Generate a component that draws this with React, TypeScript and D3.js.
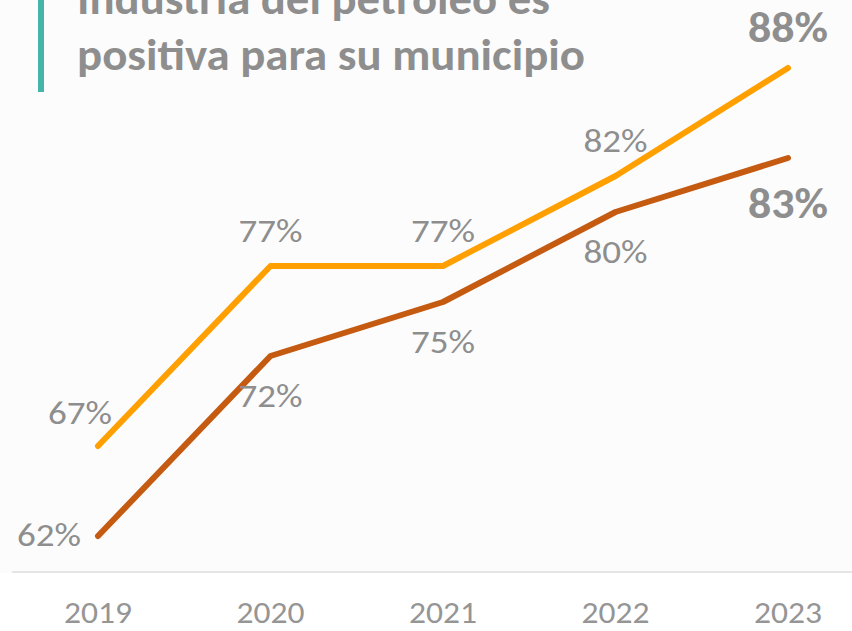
import React from "react";
import * as d3 from "d3";

const years = ["2019", "2020", "2021", "2022", "2023"];
const seriesOrange = [67, 77, 77, 82, 88];
const seriesBrown = [62, 72, 75, 80, 83];
const titleLines = ["Industria del petróleo es", "positiva para su municipio"];

const W = 852;
const H = 631;
const FONT = "Carlito, Calibri, Lato, 'Open Sans', sans-serif";
const GREY = "#8e8e8e";

export default function App() {
  const x = d3.scalePoint<string>().domain(years).range([98, 788]);
  const y = d3.scaleLinear().domain([60, 90]).range([572, 32]);
  const line = d3
    .line<number>()
    .x((_, i) => x(years[i]) as number)
    .y((d) => y(d));

  const fmt = (v: number) => `${v}%`;
  const last = years.length - 1;

  const label = (key: string, v: number, px: number, py: number, anchor: string, bold: boolean) => (
    <text
      key={key}
      x={px}
      y={py}
      textAnchor={anchor}
      fontSize={bold ? 42 : 33}
      fontWeight={bold ? 700 : 400}
      fill={GREY}
      textLength={bold ? 80 : 64}
      lengthAdjust="spacingAndGlyphs"
    >
      {fmt(v)}
    </text>
  );

  return (
    <div style={{ position: "fixed", left: 0, top: 0, width: W, height: H, background: "#fff" }}>
      <svg width={W} height={H} style={{ display: "block" }} fontFamily={FONT}>
        <rect x={0} y={0} width={W} height={573} fill="#fcfcfc" />
        {/* accent bar */}
        <rect x={38} y={0} width={6} height={92} fill="#45b5aa" />
        {/* title */}
        {titleLines.map((t, i) => (
          <text
            key={t}
            x={77}
            y={14 + i * 56}
            fontSize={45}
            fontWeight={700}
            fill={GREY}
            textLength={i === 0 ? 473 : 508}
            lengthAdjust="spacingAndGlyphs"
          >
            {t}
          </text>
        ))}
        {/* axis line */}
        <line x1={12} x2={W} y1={572} y2={572} stroke="#dedede" strokeWidth={1.5} />
        {years.map((yr) => (
          <text
            key={yr}
            x={x(yr)}
            y={623}
            textAnchor="middle"
            fontSize={31}
            fill="#959595"
            textLength={68}
            lengthAdjust="spacingAndGlyphs"
          >
            {yr}
          </text>
        ))}
        {/* lines */}
        <path
          d={line(seriesBrown) || ""}
          fill="none"
          stroke="#c55a11"
          strokeWidth={6}
          strokeLinecap="round"
          strokeLinejoin="round"
        />
        <path
          d={line(seriesOrange) || ""}
          fill="none"
          stroke="#ffa000"
          strokeWidth={6}
          strokeLinecap="round"
          strokeLinejoin="round"
        />
        {/* orange labels */}
        {seriesOrange.map((v, i) => {
          const px = x(years[i]) as number;
          const py = y(v);
          if (i === 0) return label("o" + i, v, px + 14, py - 22, "end", false);
          if (i === last) return label("o" + i, v, px, py - 26, "middle", true);
          return label("o" + i, v, px, py - 24, "middle", false);
        })}
        {/* brown labels */}
        {seriesBrown.map((v, i) => {
          const px = x(years[i]) as number;
          const py = y(v);
          if (i === 0) return label("b" + i, v, px - 17, py + 10, "end", false);
          if (i === last) return label("b" + i, v, px, py + 60, "middle", true);
          return label("b" + i, v, px, py + 51, "middle", false);
        })}
      </svg>
    </div>
  );
}
